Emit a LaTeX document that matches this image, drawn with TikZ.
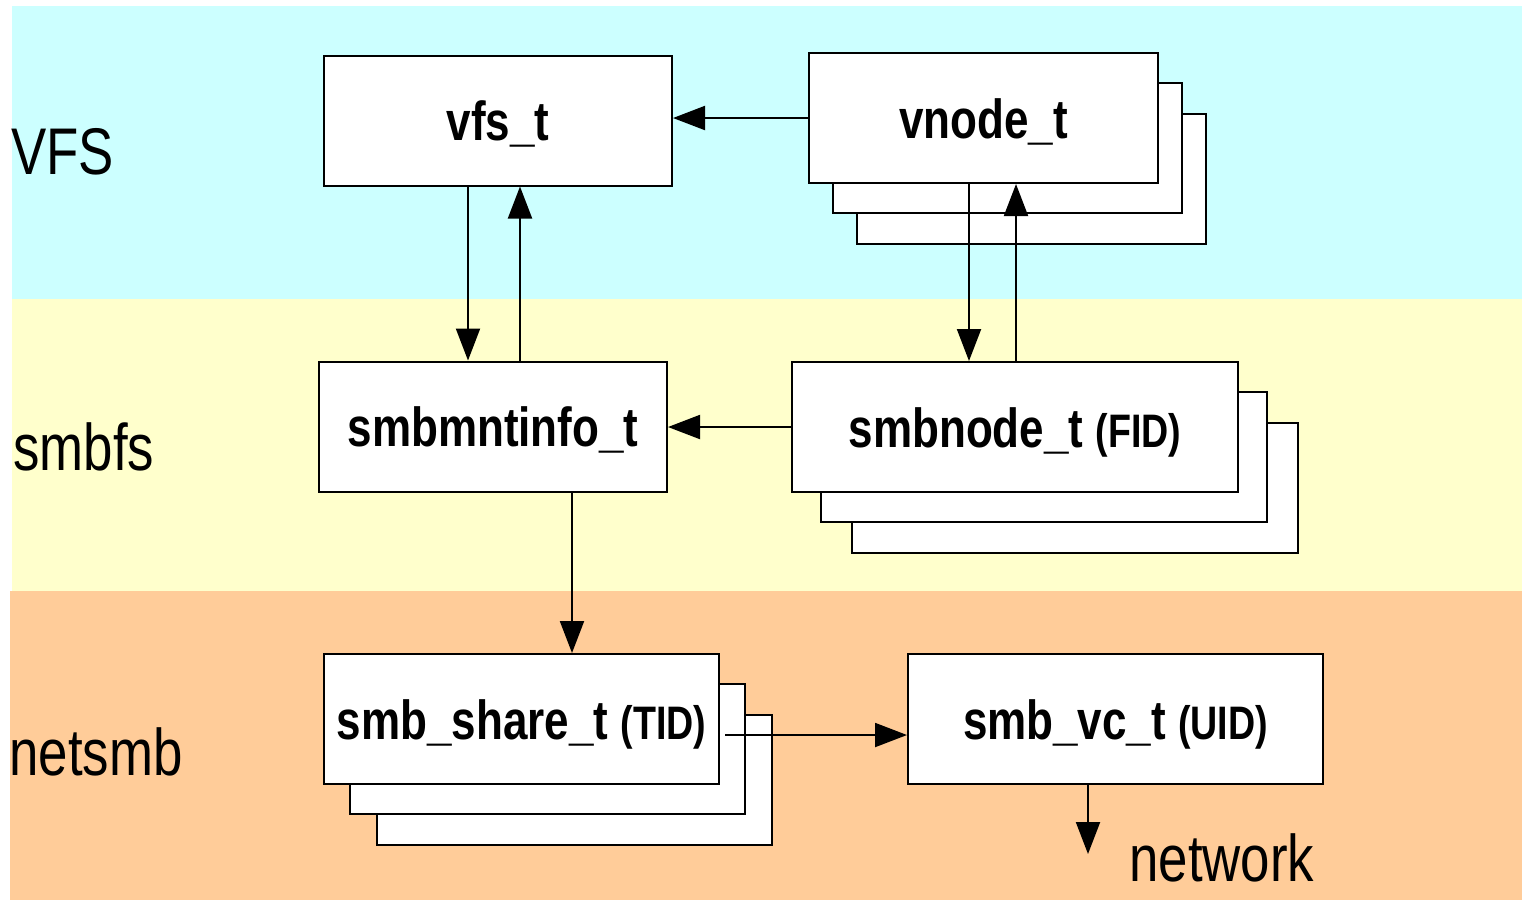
\documentclass[tikz,border=0pt]{standalone}
\usepackage{fontspec}
\setmainfont{Liberation Sans}[FakeStretch=0.8]
\usetikzlibrary{arrows.meta}
\definecolor{vfsbg}{HTML}{CCFFFF}
\definecolor{smbfsbg}{HTML}{FFFFCC}
\definecolor{netsmbbg}{HTML}{FFCC99}
\tikzset{
  box/.style={draw, fill=white, line width=1pt, minimum height=65pt, inner sep=0pt,
    text height=20pt, text depth=0pt, font=\fontsize{27.5}{33}\selectfont\bfseries},
  layer/.style={anchor=west, inner sep=0pt, font=\fontsize{33}{40}\selectfont},
  arr/.style={line width=1pt, -{Triangle[length=16pt,width=12pt]}},
}
\newcommand{\idtag}[1]{{\fontsize{23.5}{28}\selectfont #1}}
\begin{document}
\begin{tikzpicture}[x=0.5pt,y=-0.5pt]
  \useasboundingbox (0,0) rectangle (1525,902);
  \fill[vfsbg] (12,6) rectangle (1522,299);
  \fill[smbfsbg] (12,299) rectangle (1522,591);
  \fill[netsmbbg] (10,591) rectangle (1522,900);

  \node[layer] (vfslbl) at (11,152) {VFS};
  \node[layer] (smbfslbl) at (13,447) {smbfs};
  \node[layer] (netsmblbl) at (9,752) {netsmb};
  \node[layer] (netlbl) at (1129,858) {network};

  \node[box, minimum width=174pt] (vfs) at (498,120.5) {vfs\_t};

  \node[box, minimum width=174.5pt] (vnode3) at (1031.5,179) {};
  \node[box, minimum width=174.5pt] (vnode2) at (1007.5,148) {};
  \node[box, minimum width=174.5pt] (vnode) at (983.5,118) {vnode\_t};

  \node[box, minimum width=174pt] (smbmnt) at (493,426.5) {smbmntinfo\_t};

  \node[box, minimum width=223pt] (smbnode3) at (1075,488) {};
  \node[box, minimum width=223pt] (smbnode2) at (1044,457) {};
  \node[box, minimum width=223pt] (smbnode) at (1015,427) {smbnode\_t \idtag{(FID)}};

  \node[box, minimum width=197.5pt] (share3) at (574.5,780) {};
  \node[box, minimum width=197.5pt] (share2) at (547.5,749) {};
  \node[box, minimum width=197.5pt] (share) at (521.5,719) {smb\_share\_t \idtag{(TID)}};

  \node[box, minimum width=207.5pt] (vc) at (1115.5,719) {smb\_vc\_t \idtag{(UID)}};

  \coordinate (sharevc) at ([xshift=101.75pt,yshift=-8pt]share.center);
  \coordinate (net) at ([xshift=-13.75pt,yshift=-34.5pt]vc.south);

  \draw[arr] (vnode.west) -- (vnode.west -| vfs.east);
  \draw[arr] ([xshift=-15pt]vfs.south) -- ([xshift=-15pt]vfs.south |- smbmnt.north);
  \draw[arr] ([xshift=11pt]vfs.south |- smbmnt.north) -- ([xshift=11pt]vfs.south);
  \draw[arr] ([xshift=-7.25pt]vnode.south) -- ([xshift=-7.25pt]vnode.south |- smbnode.north);
  \draw[arr] ([xshift=16.25pt]vnode.south |- smbnode.north) -- ([xshift=16.25pt]vnode.south);
  \draw[arr] (smbnode.west) -- (smbnode.west -| smbmnt.east);
  \draw[arr] ([xshift=39.5pt]smbmnt.south) -- ([xshift=39.5pt]smbmnt.south |- share.north);
  \draw[arr] (sharevc) -- (sharevc -| vc.west);
  \draw[arr] ([xshift=-13.75pt]vc.south) -- (net);
\end{tikzpicture}
\end{document}
